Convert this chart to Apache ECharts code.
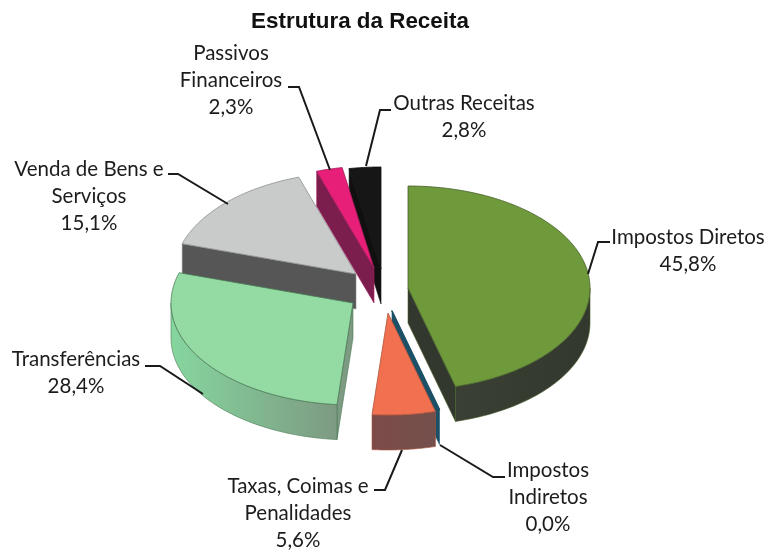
<!DOCTYPE html>
<html><head><meta charset="utf-8">
<style>html,body{margin:0;padding:0;background:#fff}#c{width:767px;height:551px}</style>
<script src="https://cdn.jsdelivr.net/npm/echarts@6/dist/echarts.min.js"></script>
</head><body><div id="c"></div>
<script>
// Data
const categories = ['Impostos Diretos','Impostos\nIndiretos','Taxas, Coimas e\nPenalidades','Transferências','Venda de Bens e\nServiços','Passivos\nFinanceiros','Outras Receitas'];
const shares = [45.8, 0.0, 5.6, 28.4, 15.1, 2.3, 2.8];

// Styling and layout of the 3-D pie
const RX = 182, RY = 102, DEPTH = 35;
const tips = [[408,288],[392,311],[388,313],[353,303],[356,274],[374,268],[381,269]];
const paintOrder = [6,5,4,3,0,1,2];
const topColors = ['#6f9a3c','#1c5066','#f0704f','#93dba2','#c9cbcb','#e81f79','#161616'];
const wallColors = [['#3b4034','#33382e'],['#1c5066','#1c5066'],['#7c4b48','#74504c'],['#86d69e','#7d9a82'],['#555655','#555655'],['#7b1d4d','#7b1d4d'],['#101010','#101010']];
const edgeColors = ['#46602a','#1c5066','#b0553c','#4c7a58','#8d8f8f','#a81a5c','#101010'];
const labelCenters = [[688,251],[548,497],[298,513],[76,373],[89,196],[231,80],[464,117]];
const leaders = [
  [[588,274],[598,242],[610,242]],
  [[440,445],[493,477],[505,477]],
  [[402,450],[385,490],[374,490]],
  [[203,394],[160,366],[145,366]],
  [[228,204],[178,174],[168,174]],
  [[330,170],[299,87],[288,87]],
  [[366,166],[380,110],[391,110]]
];
const fmt = v => v.toFixed(1).replace('.', ',') + '%';

function pt(tip, a, dy) {
  return [tip[0] + RX * Math.sin(a), tip[1] - RY * Math.cos(a) + (dy || 0)];
}
function poly(points, fill, stroke, lw) {
  return { type:'polygon', shape:{ points }, style:{ fill, stroke: stroke || fill, lineWidth: lw === undefined ? 0.6 : lw, lineJoin:'round' } };
}
const total = shares.reduce((a,b)=>a+b,0);
const toA = p => p / total * Math.PI * 2;

function renderItem(params, api) {
  const i = api.value(0);
  const value = api.value(1);
  let before = 0;
  for (let k = 0; k < i; k++) before += shares[k];
  const a0 = toA(before), a1 = toA(before + value);
  const tip = tips[i];
  const children = [];
  const tipLow = [tip[0], tip[1] + DEPTH];
  // cut walls: only those facing the viewer
  const cuts = [];
  if (a0 > Math.PI) cuts.push(a0);
  if (a1 < Math.PI) cuts.push(a1);
  cuts.forEach(a => {
    const p = pt(tip, a), q = pt(tip, a, DEPTH);
    children.push(poly([tip, p, q, tipLow], wallColors[i][1], edgeColors[i]));
  });
  // outer wall: only the front half of the rim
  const s = Math.max(a0, Math.PI/2), e = Math.min(a1, Math.PI*1.5);
  if (e > s) {
    const up = [], low = [];
    const n = 48;
    for (let k = 0; k <= n; k++) {
      const a = s + (e - s) * k / n;
      up.push(pt(tip, a));
      low.unshift(pt(tip, a, DEPTH));
    }
    const c = wallColors[i];
    children.push(poly(up.concat(low), new echarts.graphic.LinearGradient(0,0,1,0,[{offset:0,color:c[0]},{offset:1,color:c[1]}]), edgeColors[i]));
  }
  // top face
  const face = [tip];
  const n = Math.max(2, Math.ceil((a1 - a0) / 0.02));
  for (let k = 0; k <= n; k++) face.push(pt(tip, a0 + (a1 - a0) * k / n));
  children.push(poly(face, topColors[i], edgeColors[i], value === 0 ? 1.5 : 0.8));
  // leader
  children.push({ type:'polyline', z2:20, shape:{ points: leaders[i] }, style:{ fill:null, stroke:'#1a1a1a', lineWidth:2 } });
  // label
  children.push({ type:'text', z2:30, style:{
    x: labelCenters[i][0], y: labelCenters[i][1],
    text: categories[i] + '\n' + fmt(value),
    align:'center', verticalAlign:'middle', lineHeight:27,
    font:'20.5px Lato', fill:'#1c1c1c'
  }});
  return { type:'group', children };
}

const chart = echarts.init(document.getElementById('c'), null, { renderer:'canvas' });
chart.setOption({
  animation:false,
  backgroundColor:'#ffffff',
  title:{ text:'Estrutura da Receita', left:355, top:6, textAlign:'center',
    textStyle:{ fontFamily:'Liberation Sans', fontWeight:'bold', fontSize:22.4, color:'#111111' } },
  series:[{
    type:'custom',
    coordinateSystem:'none',
    renderItem,
    clip:false,
    data: paintOrder.map(i => [i, shares[i]])
  }]
});
</script></body></html>
